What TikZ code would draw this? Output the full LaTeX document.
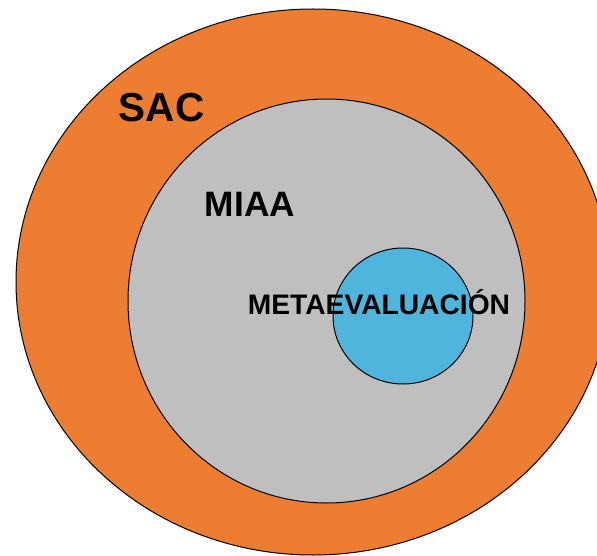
\documentclass[tikz,border=0pt]{standalone}
\usepackage{fontspec}
\setmainfont{Liberation Sans}
\usepackage{xcolor}
\definecolor{sacorange}{HTML}{ED7D31}
\definecolor{miaagray}{HTML}{BFBFBF}
\definecolor{metablue}{HTML}{4FB5DC}
\begin{document}
\begin{tikzpicture}[
  x=1pt, y=-1pt,
  ring/.style={draw=black, line width=1pt},
  lbl/.style={anchor=base, inner sep=0pt, font=\bfseries}
]
\useasboundingbox (0,0) rectangle (597,556);
\clip (0,0) rectangle (597,556);
% nested sets
\draw[ring, fill=sacorange] (313,282) ellipse [x radius=297, y radius=273];
\draw[ring, fill=miaagray] (326.5,301) ellipse [x radius=198.5, y radius=202];
\draw[ring, fill=metablue] (403,316) ellipse [x radius=70, y radius=68];

\node[lbl, font=\bfseries\fontsize{40.5}{41}\selectfont] (sac) at (161.5,122) {SAC};
\node[lbl, font=\bfseries\fontsize{35.3}{36}\selectfont] (miaa) at (250,217) {MIAA};
\node[lbl, font=\bfseries\fontsize{28.2}{29}\selectfont] (meta) at (379,314) {METAEVALUACIÓN};
\end{tikzpicture}
\end{document}
